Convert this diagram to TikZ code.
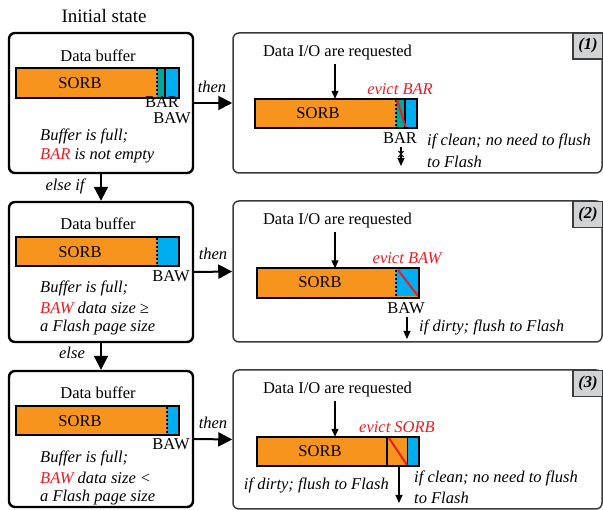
\documentclass[tikz,border=0pt]{standalone}
\usepackage{fontspec}
\setmainfont{Liberation Serif}
\usetikzlibrary{arrows.meta}
\definecolor{sorbc}{HTML}{F7941D}
\definecolor{bawc}{HTML}{00AEEF}
\definecolor{barc}{HTML}{00A99D}
\definecolor{evictc}{HTML}{ED1C24}
\definecolor{tagc}{HTML}{D1D3D4}
\definecolor{framec}{HTML}{3C3C3C}

\begin{document}
\begin{tikzpicture}[x=1pt,y=-1pt,
  every node/.style={inner sep=0pt, font=\fontsize{16.5}{20}\selectfont},
  statebox/.style={draw, line width=2.4pt, rounded corners=6pt, minimum width=184pt},
  panel/.style={draw=framec, line width=1.5pt, rounded corners=6pt, minimum width=369pt},
  tagbox/.style={draw=framec, fill=tagc, line width=1.2pt, minimum width=30pt, minimum height=26pt,
    font=\fontsize{16.5}{20}\selectfont\bfseries\itshape},
  note/.style={anchor=west, font=\fontsize{16.5}{20}\selectfont\itshape},
  cnote/.style={font=\fontsize{16.5}{20}\selectfont\itshape},
  redtxt/.style={text=evictc, font=\fontsize{16.5}{20}\selectfont\itshape},
  barbody/.style={fill=sorbc, minimum height=29pt},
  barline/.style={line width=2pt},
  dots/.style={line width=2pt, dash pattern=on 2pt off 2pt},
  slash/.style={draw=evictc, line width=2pt},
  flow/.style={line width=2pt, -{Triangle[length=14pt,width=14pt]}},
  req/.style={line width=1.2pt, -{Triangle[length=8pt,width=7pt]}}
]
\useasboundingbox (0,0) rectangle (603,510);

% ---------- left column: initial states ----------
\node[font=\fontsize{19}{22}\selectfont] (title) at (104,16) {Initial state};

\node[statebox, minimum height=140pt] (L1) at (101,103) {};
\node[statebox, minimum height=140pt] (L2) at (101,272) {};
\node[statebox, minimum height=136pt] (L3) at (101,439) {};

% state 1 buffer
\node (db1) at (98,56) {Data buffer};
\node[barbody, minimum width=163pt] (LB1) at (97.5,83) {};
\fill[barc] (157,68.5) rectangle (165,97.5);
\fill[bawc] (165,68.5) rectangle (179,97.5);
\draw[dots] (157,69) -- (157,97);
\draw[line width=1.2pt] (165,69) -- (165,97);
\draw[barline] (LB1.north west) rectangle (LB1.south east);
\node (ls1) at (80,83) {SORB};
\node (lbar1) at (162,102.5) {BAR};
\node (lbaw1) at (172,118.5) {BAW};
\node[note] (c11) at (40,136) {Buffer is full;};
\node[note] (c12) at (40,156) {\textcolor{evictc}{BAR} is not empty};

% state 2 buffer
\node (db2) at (98,224) {Data buffer};
\node[barbody, minimum width=163pt] (LB2) at (97.5,251.5) {};
\fill[bawc] (157,237.5) rectangle (179,265.5);
\draw[dots] (157,238) -- (157,265);
\draw[barline] (LB2.north west) rectangle (LB2.south east);
\node (ls2) at (80,252) {SORB};
\node (lbaw2) at (171,276) {BAW};
\node[note] (c21) at (40,288) {Buffer is full;};
\node[note] (c22) at (40,308) {\textcolor{evictc}{BAW} data size ≥};
\node[note] (c23) at (40,328) {a Flash page size};

% state 3 buffer
\node (db3) at (98,393) {Data buffer};
\node[barbody, minimum width=163pt] (LB3) at (97.5,420.5) {};
\fill[bawc] (167,406.5) rectangle (179,434.5);
\draw[dots] (166.5,407) -- (166.5,434);
\draw[barline] (LB3.north west) rectangle (LB3.south east);
\node (ls3) at (80,421) {SORB};
\node (lbaw3) at (171,444) {BAW};
\node[note] (c31) at (40,458) {Buffer is full;};
\node[note] (c32) at (40,478) {\textcolor{evictc}{BAW} data size <};
\node[note] (c33) at (40,498) {a Flash page size};

% flow between states
\draw[flow] (L1.south) -- (L2.north);
\node[cnote] (elseif) at (65,186) {else if};
\draw[flow] (L2.south) -- (L3.north);
\node[cnote] (else) at (72,353) {else};

% ---------- right column: actions ----------
\node[panel, minimum height=140pt] (R1) at (417.5,103) {};
\node[panel, minimum height=141pt] (R2) at (417.5,271.5) {};
\node[panel, minimum height=139pt] (R3) at (417.5,439.5) {};
\node[tagbox] (T1) at (588,46) {(1)};
\node[tagbox] (T2) at (588,214.5) {(2)};
\node[tagbox] (T3) at (588,383.5) {(3)};

\draw[flow] (L1.east) -- (R1.west);
\node[cnote] (then1) at (212,87) {then};
\draw[flow] (L2.east) -- (R2.west);
\node[cnote] (then2) at (213,254) {then};
\draw[flow] (L3.east) -- (R3.west);
\node[cnote] (then3) at (213,423) {then};

% action 1: evict BAR
\node (q1) at (337.5,53) {Data I/O are requested};
\node[barbody, minimum width=162pt] (RB1) at (336,113.5) {};
\fill[barc] (396,99.5) rectangle (405,127.5);
\fill[bawc] (405,99.5) rectangle (417,127.5);
\draw[dots] (396,100) -- (396,127);
\draw[line width=1.2pt] (405,100) -- (405,127);
\draw[slash] (397,100) -- (406,128);
\draw[barline] (RB1.north west) rectangle (RB1.south east);
\draw[req, shorten <=3pt] (q1.south -| 335,0) -- (335,0 |- RB1.north);
\node (rs1) at (318,113) {SORB};
\node[redtxt] (ev1) at (400,89) {evict BAR};
\node (rbar1) at (400,138) {BAR};
\coordinate (drop1) at (401,166);
\draw[req] (rbar1.south -| drop1) ++(0,3) -- (drop1);
\draw[line width=1pt] (398.5,151) -- (403.5,157) (403.5,151) -- (398.5,157);
\node[note] (a11) at (427,141) {if clean; no need to flush};
\node[note] (a12) at (427,162) {to Flash};

% action 2: evict BAW
\node (q2) at (337.5,221) {Data I/O are requested};
\node[barbody, minimum width=162pt] (RB2) at (338,283) {};
\fill[bawc] (396,269.5) rectangle (419,296.5);
\draw[dots] (396,270) -- (396,296);
\draw[slash] (398,270) -- (418,296);
\draw[barline] (RB2.north west) rectangle (RB2.south east);
\draw[req, shorten <=3pt] (q2.south -| 335,0) -- (335,0 |- RB2.north);
\node (rs2) at (320,282) {SORB};
\node[redtxt] (ev2) at (407,258) {evict BAW};
\node (rbaw2) at (406,308) {BAW};
\coordinate (drop2) at (407,339);
\draw[req] (rbaw2.south -| drop2) ++(0,3) -- (drop2);
\node[note] (a21) at (419,327) {if dirty; flush to Flash};

% action 3: evict SORB
\node (q3) at (337.5,390) {Data I/O are requested};
\node[barbody, minimum width=162pt] (RB3) at (338,451.5) {};
\fill[bawc] (407,437.5) rectangle (419,465.5);
\draw[line width=1.2pt] (387,438) -- (387,465);
\draw[line width=1pt] (407,438) -- (407,465);
\draw[slash] (389,438) -- (407,465);
\draw[barline] (RB3.north west) rectangle (RB3.south east);
\draw[req, shorten <=3pt] (q3.south -| 335,0) -- (335,0 |- RB3.north);
\node (rs3) at (320,451) {SORB};
\node[redtxt] (ev3) at (397,427) {evict SORB};
\coordinate (drop3) at (399,503);
\draw[req] (RB3.south -| drop3) -- (drop3);
\node[cnote, anchor=east] (a31) at (389,485) {if dirty; flush to Flash};
\node[note] (a32) at (414,478) {if clean; no need to flush};
\node[note] (a33) at (414,498) {to Flash};
\end{tikzpicture}
\end{document}
